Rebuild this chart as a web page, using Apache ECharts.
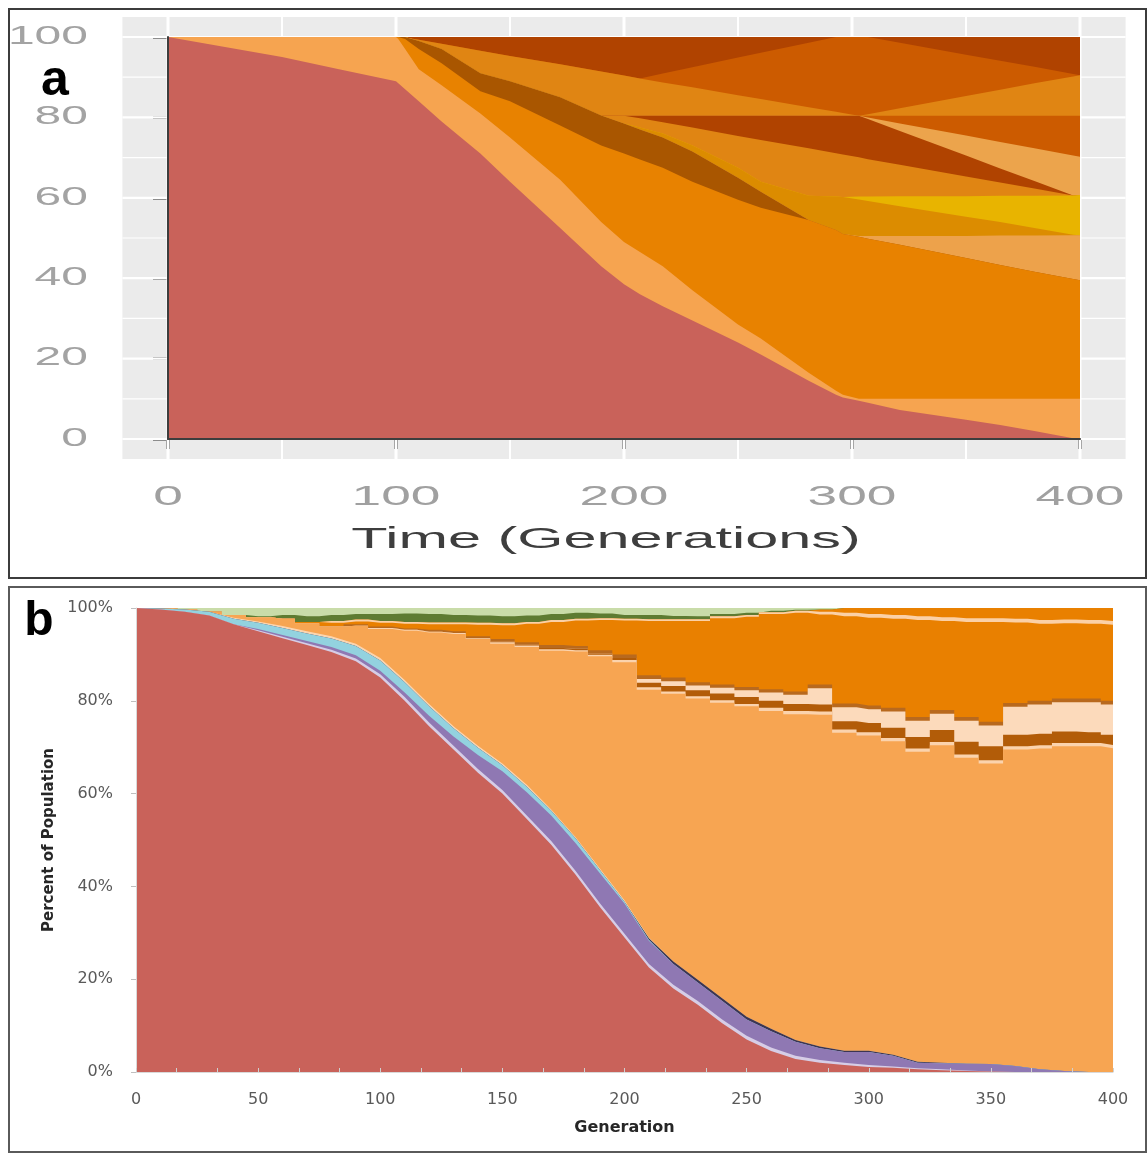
<!DOCTYPE html>
<html lang="en">
<head>
<meta charset="utf-8">
<title>Clonal dynamics over 400 generations</title>
<script src="https://cdn.jsdelivr.net/npm/echarts/dist/echarts.min.js"></script>
<style>
  html, body { margin: 0; padding: 0; background: #ffffff; }
  #chart { width: 1147px; height: 1154px; }
</style>
</head>
<body>
<div id="chart"></div>
<script>
// ---------------- Panel a: Muller plot of simulated clones ----------------
// Generations at which the clone boundaries are sampled
const genA = [0, 25, 50, 75, 100, 101, 104, 110, 120, 137, 150, 172, 190, 200, 207, 217, 230, 250, 260, 281, 293, 296, 303, 307, 321, 350, 365, 380, 397, 400];

// Upper edge (%) of each clone band, listed from the bottom band upwards
const aAncestor   = [100, 97.5, 95, 92, 89, 88.5, 87, 84, 79, 71, 64, 52.5, 43, 38.5, 36, 33, 29.5, 24, 21, 14.5, 11, 10.3, 9.5, 9, 7.2, 4.8, 3.5, 2, 0.2, 0];
const aLightOrange = [100, 100, 100, 100, 100, 99.5, 97, 92, 88, 81, 75, 64.5, 54, 49, 46.5, 43, 37, 28.5, 25, 16.5, 12, 11, 10, 10, 10, 10, 10, 10, 10, 10];
const aOrange     = [100, 100, 100, 100, 100, 100, 99.5, 97, 93.5, 86.5, 84, 78, 73, 71, 69.5, 67.5, 64, 59.5, 57.5, 54.5, 52, 51, 50.3, 49.8, 48.3, 45, 43.3, 41.6, 39.8, 39.5];
const aBrown      = [100, 100, 100, 100, 100, 100, 100, 99, 97, 91, 89, 85, 80.5, 78.5, 77, 75, 71.5, 65, 61.5, 54.5, 52, 51, 50.3, 49.8, 48.3, 45, 43.3, 41.6, 39.8, 39.5];
const aPale       = [100, 100, 100, 100, 100, 100, 100, 99, 97, 91, 89, 85, 80.5, 78.5, 77, 75, 71.5, 65, 61.5, 54.5, 52, 51, 50.5, 50.5, 50.5, 50.5, 50.6, 50.6, 50.7, 50.7];
const aGold       = [100, 100, 100, 100, 100, 100, 100, 99, 97, 91, 89, 85, 80.5, 78.5, 77.5, 76, 73, 67.5, 64, 60.5, 60.3, 60.2, 59.6, 59.2, 57.9, 55.3, 54, 52.5, 50.8, 50.7];
const aYellow     = [100, 100, 100, 100, 100, 100, 100, 99, 97, 91, 89, 85, 80.5, 78.5, 77.5, 76, 73, 67.5, 64, 60.5, 60.3, 60.2, 60.3, 60.3, 60.4, 60.4, 60.5, 60.5, 60.6, 60.7];
const aAmberLow   = [100, 100, 100, 100, 100, 100, 100, 99, 97, 91, 89, 85, 80.5, 80.4, 79.8, 78.8, 77.5, 75.4, 74.4, 72.3, 71.1, 70.8, 70.1, 69.6, 68.2, 65.3, 63.8, 62.3, 60.6, 60.7];
const aRustLow    = [100, 100, 100, 100, 100, 100, 100, 99, 97, 91, 89, 85, 80.5, 80.4, 80.4, 80.4, 80.4, 80.4, 80.4, 80.4, 80.4, 80.4, 80.4, 79.6, 76.6, 70.5, 67.3, 64.2, 60.6, 60.7];
const aPeach      = [100, 100, 100, 100, 100, 100, 100, 99, 97, 91, 89, 85, 80.5, 80.4, 80.4, 80.4, 80.4, 80.4, 80.4, 80.4, 80.4, 80.4, 80.4, 80, 78.5, 75.5, 73.9, 72.3, 70.5, 70.2];
const aBurntLow   = [100, 100, 100, 100, 100, 100, 100, 99, 97, 91, 89, 85, 80.5, 80.4, 80.4, 80.4, 80.4, 80.4, 80.4, 80.4, 80.4, 80.4, 80.4, 80.4, 80.4, 80.4, 80.4, 80.4, 80.4, 80.4];
const aAmberHigh  = [100, 100, 100, 100, 100, 100, 99.9, 99.3, 98.3, 96.6, 95.3, 93.2, 91.4, 90.4, 89.7, 88.7, 87.5, 85.5, 84.6, 82.5, 81.4, 81.1, 80.4, 80.8, 82.3, 85.3, 86.9, 88.5, 90.2, 90.5];
const aBurntHigh  = [100, 100, 100, 100, 100, 100, 99.9, 99.3, 98.3, 96.6, 95.3, 93.2, 91.4, 90.4, 89.7, 90.9, 92.5, 94.9, 96.1, 98.6, 100, 100, 100, 100, 98.6, 95.6, 94.1, 92.6, 90.8, 90.5];
const aRustHigh   = [100, 100, 100, 100, 100, 100, 100, 100, 100, 100, 100, 100, 100, 100, 100, 100, 100, 100, 100, 100, 100, 100, 100, 100, 100, 100, 100, 100, 100, 100];

const ticksAX = [0, 100, 200, 300, 400];
const ticksAY = [0, 20, 40, 60, 80, 100];

// ---------------- Panel b: observed lineages, percent of population ----------------
const genB = [0, 10, 20, 30, 40, 50, 60, 70, 80, 90, 100, 110, 120, 130, 140, 150, 160, 170, 180, 190, 200,
              210, 220, 230, 240, 250, 260, 270, 280, 290, 300, 310, 320, 330, 340, 350, 360, 370, 380, 390, 400];

// Share (%) of each lineage; lower lineages listed bottom-up
const bAncestor = [100, 99.7, 99.2, 98.4, 96.5, 95, 93.5, 92, 90.5, 88.5, 85, 80, 74.5, 69.5, 64.5, 60, 54.5, 49, 42.5, 35.5, 29, 22.5, 18, 14.5, 10.5, 7, 4.5, 2.8, 2, 1.5, 1.1, 0.9, 0.6, 0.4, 0.2, 0.1, 0, 0, 0, 0, 0];
const bLavender = [0, 0, 0, 0, 0, 0.2, 0.3, 0.4, 0.5, 0.6, 0.7, 0.8, 0.8, 0.8, 0.8, 0.8, 0.8, 0.8, 0.8, 0.8, 0.8, 0.8, 0.8, 0.8, 0.8, 0.8, 0.8, 0.7, 0.6, 0.5, 0.4, 0.3, 0.2, 0.2, 0.1, 0, 0, 0, 0, 0, 0];
const bPurple   = [0, 0, 0, 0, 0, 0.3, 0.4, 0.5, 0.6, 0.7, 0.8, 1, 1.5, 2, 3, 4, 5, 5.5, 6, 6.5, 6.5, 5, 4.5, 4, 4, 3.5, 3.5, 3, 2.5, 2.3, 2.8, 2.3, 1.2, 1.3, 1.5, 1.6, 1.3, 0.6, 0.2, 0, 0];
const bBlue     = [0, 0.2, 0.5, 0.8, 1.2, 1.3, 1.5, 1.6, 1.8, 2, 2.2, 2.2, 2, 1.8, 1.6, 1.3, 1.2, 1, 1, 0.7, 0.4, 0.2, 0, 0, 0, 0, 0, 0, 0, 0, 0, 0, 0, 0, 0, 0, 0, 0, 0, 0, 0];
const bNavy     = [0, 0, 0, 0, 0, 0, 0, 0, 0, 0, 0, 0, 0, 0, 0, 0, 0, 0, 0, 0, 0, 0.3, 0.5, 0.6, 0.6, 0.6, 0.5, 0.4, 0.4, 0.3, 0.3, 0.2, 0.2, 0.1, 0, 0, 0, 0, 0, 0, 0];
const bApricot  = [0, 0, 0, 0, 0.2, 0.3, 0.4, 0.5, 0.5, 0.5, 0.5, 0.5, 0.5, 0.4, 0.4, 0.4, 0.4, 0.3, 0.3, 0.3, 0.3, 0.2, 0, 0, 0, 0, 0, 0, 0, 0, 0, 0, 0, 0, 0, 0, 0, 0, 0, 0, 0];
// Upper lineages, listed bottom-up; the dominant light-orange lineage fills the rest
const bCreamLine = [0, 0, 0, 0, 0, 0, 0, 0, 0, 0, 0.2, 0.2, 0.2, 0.2, 0.2, 0.3, 0.3, 0.3, 0.3, 0.3, 0.5, 0.5, 0.5, 0.5, 0.5, 0.5, 0.7, 0.7, 0.7, 0.7, 0.7, 0.7, 0.7, 0.7, 0.7, 0.7, 0.7, 0.7, 0.7, 0.7, 0.7];
const bUmber     = [0, 0, 0, 0, 0, 0, 0, 0, 0, 0, 0, 0, 0, 0, 0, 0.2, 0.2, 0.3, 0.3, 0.3, 0.4, 1, 1.2, 1.3, 1.5, 1.5, 1.5, 1.5, 1.5, 1.8, 2, 2.2, 2.5, 2.6, 2.8, 3, 2.5, 2.5, 2.5, 2.3, 2.2];
const bCream     = [0, 0, 0, 0, 0, 0, 0, 0, 0, 0, 0, 0, 0, 0, 0, 0, 0, 0, 0, 0, 0, 0.8, 1, 1, 1.2, 1.5, 1.8, 2, 3.5, 3, 3, 3.5, 3.5, 3.5, 4.5, 4.5, 6, 6.3, 6.3, 6.5, 6.5];
const bUmberLine = [0, 0, 0, 0, 0, 0, 0, 0, 0, 0.3, 0.3, 0.3, 0.4, 0.4, 0.4, 0.5, 0.5, 0.6, 0.6, 0.7, 0.8, 0.8, 0.8, 0.7, 0.7, 0.7, 0.7, 0.7, 0.8, 0.8, 0.8, 0.8, 0.8, 0.8, 0.8, 0.8, 0.8, 0.8, 0.8, 0.8, 0.8];
const bOrange    = [0, 0, 0, 0, 0, 0, 0, 0.3, 0.8, 0.6, 0.8, 1, 1.2, 1.5, 2.5, 3, 4, 5, 5.5, 6.5, 7.3, 11.7, 12.2, 13.2, 14.3, 15.1, 16.2, 17, 15.1, 18.8, 18.9, 19.2, 20.9, 19.2, 20.5, 21.5, 17.4, 16.6, 16.2, 16.1, 16.4];
const bPeachLine = [0, 0, 0, 0, 0, 0, 0, 0, 0.4, 0.4, 0.4, 0.4, 0.4, 0.4, 0.4, 0.4, 0.4, 0.4, 0.4, 0.4, 0.4, 0.4, 0.4, 0.4, 0.4, 0.4, 0.4, 0.4, 0.6, 0.8, 0.8, 0.8, 0.8, 0.8, 0.8, 0.8, 0.8, 0.8, 0.8, 0.8, 0.8];
const bOrangeTop = [0, 0, 0, 0, 0, 0, 0, 0, 0, 0, 0, 0, 0, 0, 0, 0, 0, 0, 0, 0, 0, 0, 0, 0, 0, 0, 0, 0, 0.5, 1, 1.3, 1.5, 1.8, 2, 2.2, 2.2, 2.3, 2.6, 2.5, 2.6, 2.8];
const bOlive     = [0, 0, 0, 0, 0, 0.2, 0.8, 1.2, 1.3, 1.2, 1.5, 1.8, 1.8, 1.6, 1.6, 1.5, 1.4, 1.3, 1.3, 1, 0.8, 0.9, 0.7, 0.6, 0.5, 0.5, 0.3, 0.2, 0, 0, 0, 0, 0, 0, 0, 0, 0, 0, 0, 0, 0];
const bSage      = [0, 0.1, 0.3, 0.8, 1.5, 1.8, 1.5, 1.8, 1.5, 1.3, 1.3, 1.2, 1.3, 1.5, 1.6, 1.8, 1.6, 1.3, 1, 1.2, 1.5, 1.5, 1.7, 1.8, 1.3, 1, 0.6, 0.4, 0.3, 0, 0, 0, 0, 0, 0, 0, 0, 0, 0, 0, 0];

const ticksBX = [0, 50, 100, 150, 200, 250, 300, 350, 400];

// ---------------- Build series ----------------
// Each band is an area filled down to 0; bands are painted from the top one
// downwards so every band stays visible between its lower neighbour and its own edge.
function band(xi, yi, gens, tops, color, step) {
  return {
    type: 'line', xAxisIndex: xi, yAxisIndex: yi,
    data: gens.map((g, i) => [g, tops[i]]),
    symbol: 'none', showSymbol: false, silent: true, step: step || false,
    lineStyle: { width: 0, opacity: 0 },
    areaStyle: { color: color, opacity: 1 },
    animation: false
  };
}

const bandsA = [
  [aRustHigh, '#b04300'], [aBurntHigh, '#cc5b00'], [aAmberHigh, '#e08513'],
  [aBurntLow, '#cc5b00'], [aPeach, '#eca44c'], [aRustLow, '#b04300'],
  [aAmberLow, '#e08513'], [aYellow, '#e8b400'], [aGold, '#dc8c00'],
  [aPale, '#eda24b'], [aBrown, '#a95600'], [aOrange, '#e88200'],
  [aLightOrange, '#f6a450'], [aAncestor, '#c9625a']
];

// Panel b: running edges of each lineage
const lowerB = [[bAncestor, '#c9625a'], [bLavender, '#d6cde6'], [bPurple, '#8f78b3'],
                [bBlue, '#93d2df'], [bNavy, '#3c3552'], [bApricot, '#fbd5b0']];
const upperB = [[bCreamLine, '#fbd3ad'], [bUmber, '#b25c08'], [bCream, '#fcdabb'],
                [bUmberLine, '#b8691e'], [bOrange, '#e98000'], [bPeachLine, '#fbd0a6'],
                [bOrangeTop, '#e98000'], [bOlive, '#5e7b32'], [bSage, '#c9dca9']];

const bandsB = [];
// upper lineages hang down from 100 % (their frequencies change in jumps)
let edge = genB.map(() => 100);
for (let k = upperB.length - 1; k >= 0; k--) {
  bandsB.push([edge.slice(), upperB[k][1], 'middle']);
  edge = edge.map((v, i) => v - upperB[k][0][i]);
}
// dominant light-orange lineage fills what remains below them
bandsB.push([edge.slice(), '#f7a552', 'middle']);
// lower lineages stack up from 0
const lowerTops = [];
let run = genB.map(() => 0);
lowerB.forEach(([vals, color]) => {
  run = run.map((v, i) => v + vals[i]);
  lowerTops.push([run.slice(), color, false]);
});
for (let k = lowerTops.length - 1; k >= 0; k--) bandsB.push(lowerTops[k]);

const series = [];
bandsA.forEach(([tops, color]) => series.push(band(0, 0, genA, tops, color)));
bandsB.forEach(([tops, color, step]) => series.push(band(2, 2, genB, tops, color, step)));

// ---------------- Chart ----------------
const chart = echarts.init(document.getElementById('chart'), null, { renderer: 'canvas' });

const hidden = { show: false };
const option = {
  animation: false,
  backgroundColor: '#ffffff',
  grid: [
    { left: 168, top: 37, right: 67, bottom: 715 },
    { left: 136, top: 608, right: 34, bottom: 82 }
  ],
  xAxis: [
    { gridIndex: 0, type: 'value', min: 0, max: 400, interval: 100, z: 10,
      axisLine: { show: true, onZero: false, lineStyle: { color: '#3d3d3d', width: 2 } },
      axisTick: hidden, axisLabel: hidden, splitLine: hidden },
    { gridIndex: 0, type: 'value', position: 'bottom', offset: 21, min: 0, max: 400, interval: 100,
      axisLine: hidden, axisLabel: hidden, splitLine: hidden,
      axisTick: { show: true, length: 10, lineStyle: { color: '#4d4d4d', width: 4 } } },
    { gridIndex: 1, type: 'value', min: 0, max: 400, interval: 50, z: 10,
      axisLine: { show: true, onZero: false, lineStyle: { color: '#d9d9d9', width: 1 } },
      axisTick: { show: true, inside: true, length: 4, lineStyle: { color: '#d0d0d0' } },
      minorTick: { show: true, splitNumber: 3, length: 4, lineStyle: { color: '#d0d0d0' } },
      axisLabel: { color: '#595959', fontFamily: 'DejaVu Sans', fontSize: 16, margin: 20,
                   customValues: ticksBX },
      splitLine: hidden,
      name: 'Generation', nameLocation: 'middle', nameGap: 48,
      nameTextStyle: { color: '#262626', fontFamily: 'DejaVu Sans', fontWeight: 'bold', fontSize: 16 } }
  ],
  yAxis: [
    { gridIndex: 0, type: 'value', min: 0, max: 100, interval: 20, z: 10,
      axisLine: { show: true, onZero: false, lineStyle: { color: '#3d3d3d', width: 2 } },
      axisTick: hidden, axisLabel: hidden, splitLine: hidden },
    { gridIndex: 0, type: 'value', position: 'left', offset: 50, min: 0, max: 100, interval: 20,
      axisLine: hidden, axisLabel: hidden, splitLine: hidden,
      axisTick: { show: true, length: 15, lineStyle: { color: '#8c8c8c', width: 3 } } },
    { gridIndex: 1, type: 'value', min: 0, max: 100, interval: 20, z: 10,
      axisLine: { show: true, onZero: false, lineStyle: { color: '#d9d9d9', width: 1 } },
      axisTick: { show: true, length: 5, lineStyle: { color: '#bfbfbf' } },
      axisLabel: { color: '#595959', fontFamily: 'DejaVu Sans', fontSize: 16, margin: 23,
                   formatter: v => v + '%' },
      splitLine: hidden,
      name: 'Percent of Population', nameLocation: 'middle', nameRotate: 90, nameGap: 78,
      nameTextStyle: { color: '#262626', fontFamily: 'DejaVu Sans', fontWeight: 'bold', fontSize: 15 } }
  ],
  series: series
};
chart.setOption(option);

// ---------------- Panel a frame, shaded background and stretched labels ----------------
const pa = (x, y) => chart.convertToPixel({ xAxisIndex: 0, yAxisIndex: 0 }, [x, y]);
const gfx = [];

// panel frames
gfx.push({ type: 'rect', z: 0, shape: { x: 9, y: 9, width: 1137, height: 569 },
           style: { fill: 'none', stroke: '#3c3c3c', lineWidth: 2 } });
gfx.push({ type: 'rect', z: 0, shape: { x: 9, y: 587, width: 1137, height: 565 },
           style: { fill: 'none', stroke: '#5a5a5a', lineWidth: 2 } });

// grey plotting panel with its white grid (extends 5 % beyond the data range)
const [gx0, gy0] = pa(-20, 105);
const [gx1, gy1] = pa(420, -5);
gfx.push({ type: 'rect', z: 0, shape: { x: gx0, y: gy0, width: gx1 - gx0, height: gy1 - gy0 },
           style: { fill: '#ebebeb' } });
for (let v = 0; v <= 100; v += 10) {
  const y = pa(0, v)[1];
  gfx.push({ type: 'line', z: 1, shape: { x1: gx0, y1: y, x2: gx1, y2: y },
             style: { stroke: '#ffffff', lineWidth: v % 20 === 0 ? 2.2 : 1.2 } });
}
for (let g = 0; g <= 400; g += 50) {
  const x = pa(g, 0)[0];
  gfx.push({ type: 'line', z: 1, shape: { x1: x, y1: gy0, x2: x, y2: gy1 },
             style: { stroke: '#ffffff', lineWidth: g % 100 === 0 ? 3 : 2 } });
}

function stretched(text, x, y, size, sx, color, align, weight) {
  return { type: 'text', z: 5, x: x, y: y, scaleX: sx,
           style: { text: text, fontFamily: 'Liberation Sans', fontSize: size, fontWeight: weight || 'normal',
                    fill: color, align: align, verticalAlign: 'middle',
                    textAlign: align, textVerticalAlign: 'middle' } };
}
ticksAY.forEach(v => {
  const [x, y] = pa(0, v);
  gfx.push(stretched(String(v), x - 80, y, 25, 1.92, '#a3a3a3', 'right'));
});
ticksAX.forEach(g => {
  const [x, y] = pa(g, 0);
  gfx.push(stretched(String(g), x, y + 58, 28, 1.9, '#a0a0a0', 'center'));
});
const midA = (pa(0, 0)[0] + pa(400, 0)[0]) / 2;
gfx.push(stretched('Time (Generations)', midA - 18, pa(0, 0)[1] + 101, 30, 1.98, '#3e3e3e', 'center'));

// panel letters
gfx.push(stretched('a', 55, 81, 50, 1, '#000000', 'center', 'bold'));
gfx.push(stretched('b', 39, 622, 48, 1, '#000000', 'center', 'bold'));

chart.setOption({ graphic: { elements: gfx } });
</script>
</body>
</html>
